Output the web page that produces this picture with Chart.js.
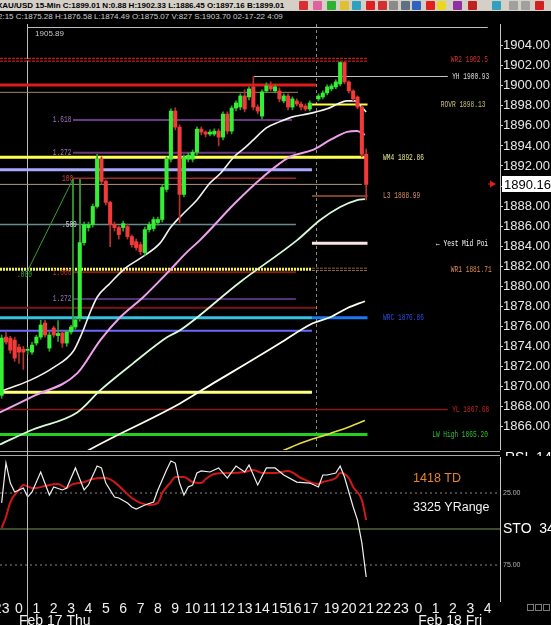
<!DOCTYPE html>
<html>
<head>
<meta charset="utf-8">
<title>XAU/USD 15-Min</title>
<script src="https://cdn.jsdelivr.net/npm/chart.js@4.4.1/dist/chart.umd.min.js"></script>
<style>
  html, body { margin: 0; padding: 0; background: #000; }
  body { width: 551px; height: 625px; overflow: hidden; position: relative; font-family: "Liberation Sans", Arial, sans-serif; }
  #barra { position: absolute; left: 0; top: 0; width: 551px; height: 11px; background: #d4d0c8; overflow: hidden; }
  #barra .txt { position: absolute; left: -3px; top: 0; font-size: 8px; font-weight: bold; color: #000; white-space: nowrap; line-height: 11px; }
  #barra .ico { position: absolute; top: 1px; width: 9px; height: 9px; border-radius: 1px; }
  #info { position: absolute; left: -2px; top: 11px; font-size: 8px; color: #cfcfcf; white-space: nowrap; line-height: 11px; }
  canvas { position: absolute; left: 0; }
  #principal { top: 24px; }
  #inferior { top: 450px; }
</style>
</head>
<body>
<div id="barra"><span class="txt">XAU/USD 15-Min C:1899.01 N:0.88 H:1902.33 L:1886.45 O:1897.16 B:1899.01</span></div>
<div id="info">2:15 C:1875.28 H:1876.58 L:1874.49 O:1875.07 V:827 S:1903.70 02-17-22 4:09</div>
<canvas id="principal" width="551" height="426"></canvas>
<canvas id="inferior" width="551" height="175"></canvas>
<script>
// ---- candles (slot = barra de 15 min; 0 = 17/fev 00:00) ----
const barSlots = [-4,-3,-2,-1,0,1,2,3,4,5,6,7,8,9,10,11,12,13,14,15,16,17,18,19,20,21,22,23,24,25,26,27,28,29,30,31,32,33,34,35,36,37,38,39,40,41,42,43,44,45,46,47,48,49,50,51,52,53,54,55,56,57,58,59,60,61,62,63,64,65,66,67,69,70,71,72,73,74,75,76,77,78,79,80];
const opens  = [1869.11,1874.92,1874.82,1874.62,1873.92,1873.72,1873.60,1873.42,1874.32,1874.92,1876.33,1873.82,1875.83,1875.07,1875.33,1874.32,1875.43,1875.93,1876.83,1884.35,1885.85,1886.15,1887.96,1892.67,1890.46,1888.36,1886.15,1885.85,1885.85,1885.95,1884.95,1884.45,1884.15,1883.35,1885.65,1885.75,1886.35,1886.66,1889.66,1892.67,1897.48,1895.88,1889.16,1892.67,1892.67,1893.37,1895.68,1895.38,1895.18,1895.18,1895.48,1894.88,1897.18,1895.48,1897.78,1897.88,1898.99,1898.89,1899.89,1897.88,1896.98,1899.49,1899.99,1899.49,1899.49,1898.49,1898.99,1897.88,1898.49,1898.18,1897.98,1897.68,1898.69,1898.89,1899.29,1899.69,1899.89,1900.19,1902.33,1900.39,1899.49,1898.89,1897.88,1893.17];
const highs  = [1875.13,1875.43,1875.00,1874.90,1874.20,1874.00,1873.90,1874.40,1875.10,1876.60,1876.60,1875.40,1876.00,1876.58,1875.50,1875.60,1876.10,1876.80,1884.60,1886.40,1886.40,1888.20,1893.17,1892.90,1890.60,1888.50,1886.40,1886.00,1886.50,1886.20,1885.10,1884.70,1884.40,1885.90,1886.40,1886.90,1886.90,1890.10,1892.90,1897.70,1897.80,1896.10,1893.10,1893.30,1893.60,1895.90,1895.90,1895.50,1895.60,1895.70,1895.70,1897.40,1897.40,1898.00,1898.50,1899.20,1899.60,1899.90,1900.93,1898.10,1899.60,1900.30,1900.40,1900.10,1899.80,1899.20,1899.20,1898.90,1898.70,1898.40,1898.20,1898.50,1899.20,1899.50,1900.10,1900.20,1900.60,1902.40,1902.40,1900.50,1899.60,1899.00,1898.00,1893.70];
const lows   = [1868.81,1874.22,1873.30,1872.50,1872.30,1871.70,1873.20,1873.20,1874.10,1874.70,1874.90,1873.50,1874.90,1874.49,1873.90,1874.00,1875.20,1875.70,1876.50,1884.10,1885.50,1885.90,1887.80,1890.20,1888.10,1883.95,1885.50,1884.70,1885.50,1884.70,1883.90,1883.60,1883.15,1883.10,1885.40,1885.50,1886.10,1886.40,1889.40,1892.40,1895.60,1886.35,1888.90,1892.40,1892.40,1893.10,1895.10,1894.90,1895.00,1895.00,1894.00,1894.60,1895.20,1895.20,1897.50,1897.60,1897.40,1898.60,1897.60,1897.20,1896.70,1899.30,1899.50,1899.30,1898.40,1898.30,1897.60,1897.60,1898.00,1897.60,1897.50,1897.50,1898.50,1898.70,1899.10,1899.50,1899.70,1900.00,1900.20,1899.30,1898.50,1897.70,1892.90,1888.60];
const closes = [1874.82,1874.42,1873.62,1872.82,1873.42,1873.42,1873.65,1874.12,1874.92,1876.13,1875.13,1875.13,1875.13,1875.28,1874.32,1875.43,1875.93,1876.63,1884.35,1886.15,1886.15,1887.96,1892.67,1890.46,1888.36,1886.15,1885.85,1885.15,1886.25,1884.95,1884.15,1883.85,1883.45,1885.65,1886.15,1886.66,1886.66,1889.86,1892.67,1897.48,1895.88,1889.16,1892.87,1893.07,1893.37,1895.68,1895.38,1895.18,1895.38,1895.48,1894.88,1897.18,1895.48,1897.78,1898.29,1898.99,1897.68,1899.69,1897.88,1897.48,1899.39,1899.99,1899.69,1899.89,1898.69,1898.99,1897.88,1898.69,1898.18,1897.88,1897.68,1898.29,1898.99,1899.29,1899.89,1899.99,1900.39,1902.33,1900.39,1899.49,1898.69,1897.88,1893.17,1890.16];

// ---- medias moveis ----
const maBrancaX = [-4.4,2.5,8,12.5,14.5,16.5,18,21,24.5,28,32.5,35,38,41,44,46.5,49.5,52,54,57,60,63,66.5,68.5,71,73.5,75.5,77.5,78.5,80];
const maBrancaY = [1869.5,1870.6,1871.9,1873.5,1875.3,1877.5,1878.9,1880.3,1881.8,1882.8,1884.3,1885.9,1887.3,1888.6,1890.3,1891.3,1892.9,1893.8,1894.6,1895.8,1896.4,1896.9,1897.2,1897.4,1897.7,1898.2,1898.5,1898.5,1898.1,1897.4];
const maRosaX = [-4.4,3.2,13.4,18.7,23.3,28.6,34.1,38.7,41.7,49.8,56.2,62.4,67.7,71.7,75.6,77.9,79.7];
const maRosaY = [1867.4,1869.0,1871.3,1874.6,1876.9,1878.9,1881.3,1883.4,1884.6,1888.3,1890.9,1892.9,1893.6,1894.6,1895.4,1895.5,1895.1];
const maMentaX = [-4.4,3.2,13.4,18.7,26.3,34.1,37.1,50.9,64.1,69.4,74,77.9,79.7];
const maMentaY = [1864.2,1865.7,1867.4,1869.6,1872.3,1874.9,1875.6,1880.4,1884.6,1886.6,1887.9,1888.6,1888.7];
const maCremeX = [14,15.9,37.1,44.7,52.5,60.1,67.7,71.7,75.6,79.7];
const maCremeY = [1863.1,1863.6,1868.3,1870.3,1872.3,1874.3,1876.3,1876.9,1877.8,1878.5];
const maAmarelaX = [59.4,64.7,71.7,76.3,79.7];
const maAmarelaY = [1863.3,1864.3,1865.3,1866.0,1866.6];

// ---- niveis horizontais ----
const levelValues = [1902.6,1900.08,1899.35,1900.93,1898.13,1896.58,1893.32,1892.86,1891.63,1890.77,1890.16,1888.99,1886.16,1884.28,1881.69,1881.69,1881.39,1878.72,1877.85,1876.85,1876.85,1875.56,1869.41,1867.68,1865.20];
const levelLabels = ['WR2 1902.5','','','YH 1900.93','ROVR 1898.13','1.618','1.272','WM4 1892.86','','100','','L3 1888.99','.500','\u2190 Yest Mid Poi','','WR1 1881.71','1.000','1.272','','','WRC 1876.86','','','YL 1867.68','LW High 1865.20'];

// ---- estocastico ----
const stoKSlots = [-4,-3,-2,-1,1,2,3,5,7,8,10,11,13,15,16,18,19,20,22,23,25,26,27,29,31,32,34,35,36,37,38,39,40,41,42,44,46,48,50,52,53,55,57,59,61,64,67,69,70,71,73,74,75,77,78,79,80];
const stoK = [31.9,4.2,18.1,24.3,21.5,27.8,24.3,10.4,26.4,20.8,22.9,21.5,7.6,22.9,19.4,6.3,7.6,18.1,27.8,28.5,31.9,34.7,36.1,33.3,31.3,22.9,9.0,2.8,4.2,18.1,26.4,20.8,19.4,11.1,9.7,10.4,7.6,14.6,6.3,10.4,5.6,19.4,7.6,7.6,12.5,17.4,18.1,20.8,12.5,12.5,11.1,6.3,13.9,34.7,43.8,59.7,83.3];
const stoDSlots = [-4,-3,-2,0,1,3,4,6,9,11,12,15,17,19,20,22,24,26,28,30,32,33,35,36,38,40,42,43,45,48,49,52,54,56,59,62,65,69,70,73,74,76,77,79,80];
const stoD = [49.3,41.7,31.3,22.9,19.4,21.5,21.5,20.1,18.8,21.5,19.4,17.4,15.3,14.6,14.6,17.4,22.9,28.5,31.9,33.3,31.9,25.0,17.4,13.9,13.9,17.4,18.1,15.3,11.8,11.1,11.1,10.4,9.0,11.1,11.1,9.7,14.6,18.8,17.4,14.6,11.1,14.6,20.8,29.9,43.8];

// ---- eixos ----
const hourTicks = [-4,0,4,8,12,16,20,24,28,32,36,40,44,48,52,56,60,63.3,67.2,72,76,80,84,88,92,96,100,104,108];
const hourLabels = ['23','0','1','2','3','4','5','6','7','8','9','10','11','12','13','14','15','16','17','19','20','21','22','23','0','1','2','3','4'];
const dateTicks = [0, 92];
const dateLabels = ['Feb 17 Thu', 'Feb 18 Fri'];
const priceTicks = [];
for (let p = 1866; p <= 1904; p += 2) priceTicks.push(p);
const stoTicks = [25, 50, 75];

const ultimoPreco = 1890.16;
const cursorSlot = 1.9, cursorPreco = 1905.89, cursorFim = 108;
const quebraSessao = 68.5;

// ---- aparencia ----
const xMin = -4.378, xMax = 110.83;
const fonteEixo = '"Liberation Sans", Arial, sans-serif';
const fonteEstreita = '"Liberation Sans Narrow", "Liberation Sans", Arial, sans-serif';
const corAlta = '#34f034', corBaixa = '#f23a3a';
const pavioAlta = '#26a826', pavioBaixa = '#b83030';

// de onde ate onde vai cada nivel (em slots), cor, espessura
const levelStyles = [
  {from: xMin, to: 80.3, color: '#c01c1c', width: 4, dash: [3, 1], hollow: true, labelAt: 99.5, labelColor: '#d83030'},
  {from: xMin, to: 68.4, color: '#e01a1a', width: 3},
  {from: xMin, to: 64.3, color: '#a08a58', width: 1},
  {from: 54.15, to: 98.8, color: '#c4c4c4', width: 1, labelAt: 99.8, labelColor: '#dcdcdc'},
  {from: 67.5, to: 80.3, color: '#ffff40', width: 2, labelAt: 97.2, labelColor: '#c8c070'},
  {from: 12.44, to: 62.9, color: '#6a3880', width: 2, labelAt: 7.8, labelColor: '#a070c0'},
  {from: 12.44, to: 63.8, color: '#6a3880', width: 2, labelAt: 7.8, labelColor: '#a070c0'},
  {from: xMin, to: 80.3, color: '#ffff50', width: 3, labelAt: 83.9, labelColor: '#e8e890'},
  {from: xMin, to: 67.5, color: '#a8a8ff', width: 3},
  {from: 12.44, to: 63.8, color: '#a02828', width: 1.5, labelAt: 9.9, labelColor: '#d04040'},
  {from: xMin, to: 79.0, color: '#b09870', width: 1},
  {from: 67.5, to: 80.3, color: '#a05a38', width: 1.5, labelAt: 83.9, labelColor: '#d89060'},
  {from: xMin, to: 63.8, color: '#6a8c8c', width: 1.5, labelAt: 9.9, labelColor: '#d8d8d8'},
  {from: 67.5, to: 80.3, color: '#ffe4e4', width: 3, labelAt: 96.1, labelColor: '#ffffff'},
  {from: xMin, to: 67.5, color: '#f0f048', width: 3, dash: [2, 1]},
  {from: 67.5, to: 80.3, color: '#c08a50', width: 3, dash: [3, 1], hollow: true, labelAt: 99.5, labelColor: '#e08850'},
  {from: 12.44, to: 63.8, color: '#802018', width: 2, labelAt: 7.8, labelColor: '#c03030'},
  {from: 12.44, to: 63.8, color: '#7040a0', width: 1.5, labelAt: 7.8, labelColor: '#a070c0'},
  {from: xMin, to: 68.4, color: '#7a1818', width: 2},
  {from: xMin, to: 67.5, color: '#38c0e0', width: 3},
  {from: 67.5, to: 80.3, color: '#1a78f0', width: 3, labelAt: 83.9, labelColor: '#2850e8'},
  {from: xMin, to: 67.5, color: '#6a6aff', width: 2},
  {from: xMin, to: 67.5, color: '#ffff80', width: 3},
  {from: xMin, to: 98.8, color: '#8c1818', width: 1.5, labelAt: 99.8, labelColor: '#c82020'},
  {from: xMin, to: 80.3, color: '#22d022', width: 3, labelAt: 95.2, labelColor: '#30c030'}
];

// icones da barra de ferramentas (so enfeite)
const icones = [[299,'#d83030'],[313,'#e060a0'],[327,'#30b030'],[340,'#e0c030'],[352,'#30a0c0'],[366,'#e02020'],[378,'#d03030'],[389,'#8a8a8a'],[401,'#607080'],[412,'#3060c0'],[426,'#e02020'],[437,'#e8d820'],[453,'#9030a0'],[468,'#c02020'],[492,'#30a0c0'],[509,'#a0a0a0'],[521,'#a0a0a0'],[535,'#d02020']];
const barra = document.getElementById('barra');
icones.forEach(function (ic) {
  const s = document.createElement('span');
  s.className = 'ico';
  s.style.left = ic[0] + 'px';
  s.style.background = ic[1];
  barra.appendChild(s);
});

function pontos(xs, ys) {
  return xs.map(function (x, i) { return {x: x, y: ys[i]}; });
}

function textoMini(ctx, txt, px, py, cor) {
  ctx.save();
  ctx.translate(px, py);
  ctx.scale(1, 1.45);
  ctx.font = '6.2px "Liberation Mono", "DejaVu Sans Mono", monospace';
  ctx.fillStyle = cor;
  ctx.textBaseline = 'middle';
  ctx.fillText(txt, 0, 0);
  ctx.restore();
}

// ---- datasets do painel de preco ----
const sobe = barSlots.map(function (s, i) { return closes[i] >= opens[i]; });
const velas = [
  {type: 'bar', order: 0, grouped: false, barThickness: 3.4, minBarLength: 1,
   data: barSlots.map(function (s, i) { return {x: s, y: [opens[i], closes[i]]}; }),
   backgroundColor: sobe.map(function (u) { return u ? corAlta : corBaixa; })},
  {type: 'bar', order: 1, grouped: false, barThickness: 1,
   data: barSlots.map(function (s, i) { return {x: s, y: [lows[i], highs[i]]}; }),
   backgroundColor: sobe.map(function (u) { return u ? pavioAlta : pavioBaixa; })}
];

function media(xs, ys, cor, w) {
  return {type: 'line', order: 2, data: pontos(xs, ys), borderColor: cor, borderWidth: w,
          pointRadius: 0, cubicInterpolationMode: 'monotone'};
}
const medias = [
  media(maAmarelaX, maAmarelaY, '#e4dc40', 1.6),
  media(maCremeX, maCremeY, '#fffff0', 1.8),
  media(maMentaX, maMentaY, '#d8fcd8', 1.8),
  media(maRosaX, maRosaY, '#f0a0f0', 2),
  media(maBrancaX, maBrancaY, '#f2f2f2', 1.6)
];

// ferramenta de fibonacci (linhas verdes)
const fibX = [1.84, 12.44], fibY = [1881.41, 1890.7];
const fibLinhas = [
  {type: 'line', order: 2.8, data: pontos(fibX, fibY), borderColor: '#34a034', borderWidth: 1, pointRadius: 0},
  {type: 'line', order: 2.8, data: pontos([12.44, 12.44], [1890.7, 1875.63]), borderColor: '#34a034', borderWidth: 1, pointRadius: 0},
  {type: 'line', order: 2.8, data: pontos([14.06, 14.06], [1890.7, 1884.31]), borderColor: '#34a034', borderWidth: 1, pointRadius: 0}
];

const niveis = [];
levelStyles.forEach(function (st, i) {
  const pts = pontos([st.from, st.to], [levelValues[i], levelValues[i]]);
  niveis.push({type: 'line', order: 3, data: pts, borderColor: st.color, borderWidth: st.width,
               borderDash: st.dash || [], pointRadius: 0});
  if (st.hollow) {
    niveis.push({type: 'line', order: 2.9, data: pts, borderColor: '#000', borderWidth: 1.3, pointRadius: 0});
  }
});

const decorPrincipal = {
  id: 'decorPrincipal',
  beforeDatasetsDraw(chart) {
    const {ctx, chartArea: a, scales: {x, y}} = chart;
    ctx.save();
    ctx.lineWidth = 1;
    ctx.strokeStyle = '#8c8c8c';
    ctx.setLineDash([3, 3]);
    const bx = Math.round(x.getPixelForValue(quebraSessao)) + 0.5;
    ctx.beginPath(); ctx.moveTo(bx, 0); ctx.lineTo(bx, a.bottom); ctx.stroke();
    ctx.setLineDash([]);
    ctx.strokeStyle = '#bdbdbd';
    const cx = Math.round(x.getPixelForValue(cursorSlot)) + 0.5;
    const cy = Math.round(y.getPixelForValue(cursorPreco)) + 0.5;
    ctx.beginPath();
    ctx.moveTo(cx, 0); ctx.lineTo(cx, chart.height);
    ctx.moveTo(cx, cy); ctx.lineTo(x.getPixelForValue(cursorFim), cy);
    ctx.stroke();
    ctx.fillStyle = '#c8c8c8';
    ctx.font = '8px ' + fonteEixo;
    ctx.textBaseline = 'top';
    ctx.fillText(cursorPreco.toFixed(2), x.getPixelForValue(3.7), cy + 2);
    ctx.restore();
  },
  afterDraw(chart) {
    const {ctx, chartArea: a, scales: {x, y}} = chart;
    levelStyles.forEach(function (st, i) {
      if (!levelLabels[i]) return;
      textoMini(ctx, levelLabels[i], x.getPixelForValue(st.labelAt), y.getPixelForValue(levelValues[i]), st.labelColor);
    });
    textoMini(ctx, '.000', x.getPixelForValue(-0.46), y.getPixelForValue(1881.2), '#30b030');
    // caixa do ultimo preco
    const py = Math.round(y.getPixelForValue(ultimoPreco));
    ctx.save();
    ctx.fillStyle = '#ffffff';
    ctx.fillRect(a.right + 2, py - 8, chart.width - a.right - 2, 16);
    ctx.fillStyle = '#000';
    ctx.font = '13px ' + fonteEixo;
    ctx.textBaseline = 'middle';
    ctx.fillText(ultimoPreco.toFixed(2), a.right + 4, py + 1);
    ctx.fillStyle = '#e01c1c';
    ctx.beginPath();
    ctx.moveTo(a.right - 4, py); ctx.lineTo(a.right - 10, py - 3.5); ctx.lineTo(a.right - 10, py + 3.5);
    ctx.closePath(); ctx.fill();
    ctx.fillRect(a.right - 12, py - 0.5, 3, 1);
    ctx.restore();
  }
};

new Chart(document.getElementById('principal'), {
  type: 'bar',
  data: {datasets: velas.concat(medias, fibLinhas, niveis)},
  options: {
    responsive: false, animation: false, devicePixelRatio: 1,
    layout: {padding: 0},
    plugins: {legend: {display: false}, tooltip: {enabled: false}},
    scales: {
      x: {type: 'linear', display: false, min: xMin, max: xMax, offset: false, bounds: 'data'},
      y: {
        position: 'right', min: 1863.65, max: 1906.17,
        afterBuildTicks(s) { s.ticks = priceTicks.map(function (v) { return {value: v}; }); },
        afterFit(s) { s.width = 51; s.paddingTop = 0; s.paddingBottom = 0; },
        ticks: {autoSkip: false, padding: 0, color: '#e8e8e8', font: {family: fonteEixo, size: 13},
                callback: function (v) { return Number(v).toFixed(2); }},
        grid: {drawOnChartArea: false, drawTicks: true, tickLength: 3, color: '#c8c8c8'},
        border: {display: true, color: '#c8c8c8'}
      }
    }
  },
  plugins: [decorPrincipal]
});

// ---- painel inferior (estocastico) ----
function refLinha(v, cor, w, dash) {
  return {type: 'line', order: 5, data: [{x: xMin, y: v}, {x: xMax, y: v}], borderColor: cor,
          borderWidth: w, borderDash: dash, pointRadius: 0};
}

const decorInferior = {
  id: 'decorInferior',
  beforeDatasetsDraw(chart) {
    const {ctx, chartArea: a} = chart;
    ctx.save();
    ctx.strokeStyle = '#a8a8a8';
    ctx.lineWidth = 1;
    ctx.beginPath();
    ctx.moveTo(0, 1.5); ctx.lineTo(a.right, 1.5);
    ctx.moveTo(0, 5.5); ctx.lineTo(a.right, 5.5);
    ctx.stroke();
    ctx.restore();
  },
  afterDraw(chart) {
    const {ctx, chartArea: a, scales: {x, y}} = chart;
    ctx.save();
    ctx.strokeStyle = '#bdbdbd';
    ctx.lineWidth = 1;
    const cx = Math.round(x.getPixelForValue(cursorSlot)) + 0.5;
    ctx.beginPath(); ctx.moveTo(cx, 0); ctx.lineTo(cx, chart.height); ctx.stroke();
    ctx.textBaseline = 'middle';
    ctx.font = '12.5px ' + fonteEixo;
    ctx.fillStyle = '#e8822c';
    ctx.fillText('1418 TD', x.getPixelForValue(90.8), y.getPixelForValue(15.3));
    ctx.fillStyle = '#f0f0f0';
    ctx.fillText('3325 YRange', x.getPixelForValue(90.8), y.getPixelForValue(35.4));
    // titulo RSI cortado pelo painel
    ctx.save();
    ctx.beginPath(); ctx.rect(a.right, 0, chart.width - a.right, 6); ctx.clip();
    ctx.font = '14px ' + fonteEixo;
    ctx.textBaseline = 'top';
    ctx.fillStyle = '#ffffff';
    ctx.fillText('RSI  14 A', a.right + 5, 1);
    ctx.restore();
    ctx.strokeStyle = '#7a7a7a';
    for (let i = 0; i < 3; i++) ctx.strokeRect(527.5 + i * 8, a.bottom + 3.5, 6, 6);
    ctx.restore();
  }
};

new Chart(document.getElementById('inferior'), {
  type: 'line',
  data: {datasets: [
    {data: pontos(stoKSlots, stoK), borderColor: '#f0f0f0', borderWidth: 1.2, pointRadius: 0, tension: 0, order: 0},
    {data: pontos(stoDSlots, stoD), borderColor: '#d01818', borderWidth: 2, pointRadius: 0, cubicInterpolationMode: 'monotone', order: 1},
    refLinha(stoTicks[0], '#8a8a8a', 1, [2, 3]),
    refLinha(stoTicks[1], '#50643a', 1.5, []),
    refLinha(stoTicks[2], '#8a8a8a', 1, [2, 3])
  ]},
  options: {
    responsive: false, animation: false, devicePixelRatio: 1,
    layout: {padding: {top: 7, left: 0, right: 0, bottom: 0}},
    plugins: {legend: {display: false}, tooltip: {enabled: false}},
    scales: {
      x: {
        type: 'linear', position: 'bottom', weight: 0, min: xMin, max: xMax, offset: false, bounds: 'data',
        afterBuildTicks(s) { s.ticks = hourTicks.map(function (v) { return {value: v}; }); },
        afterFit(s) { s.height = 12; s.paddingLeft = 0; s.paddingRight = 0; },
        ticks: {autoSkip: false, maxRotation: 0, padding: 0, color: '#f0f0f0',
                font: {family: fonteEstreita, size: 14},
                callback: function (v, i) { return hourLabels[i]; }},
        grid: {display: false, drawTicks: false}, border: {display: false}
      },
      x2: {
        type: 'linear', axis: 'x', position: 'bottom', weight: 1, min: xMin, max: xMax, offset: false, bounds: 'data',
        afterBuildTicks(s) { s.ticks = dateTicks.map(function (v) { return {value: v}; }); },
        afterFit(s) { s.height = 12; s.paddingLeft = 0; s.paddingRight = 0; },
        ticks: {autoSkip: false, maxRotation: 0, padding: 0, align: 'start', color: '#f0f0f0',
                font: {family: fonteEstreita, size: 14},
                callback: function (v, i) { return dateLabels[i]; }},
        grid: {display: false, drawTicks: false}, border: {display: false}
      },
      y: {
        position: 'right', reverse: true, min: 0, max: 100,
        afterBuildTicks(s) { s.ticks = stoTicks.map(function (v) { return {value: v}; }); },
        afterFit(s) { s.width = 51; s.paddingTop = 0; s.paddingBottom = 0; },
        ticks: {
          autoSkip: false, padding: 3,
          color: function (c) { return c.tick && c.tick.value === 50 ? '#ffffff' : '#b4b4b4'; },
          font: function (c) { return c.tick && c.tick.value === 50 ? {family: fonteEixo, size: 14} : {family: fonteEixo, size: 7}; },
          callback: function (v) { return v === 50 ? 'STO  34.71' : Number(v).toFixed(2); }
        },
        grid: {drawOnChartArea: false, drawTicks: false, color: '#c8c8c8'},
        border: {display: true, color: '#c8c8c8'}
      }
    }
  },
  plugins: [decorInferior]
});
</script>
</body>
</html>
